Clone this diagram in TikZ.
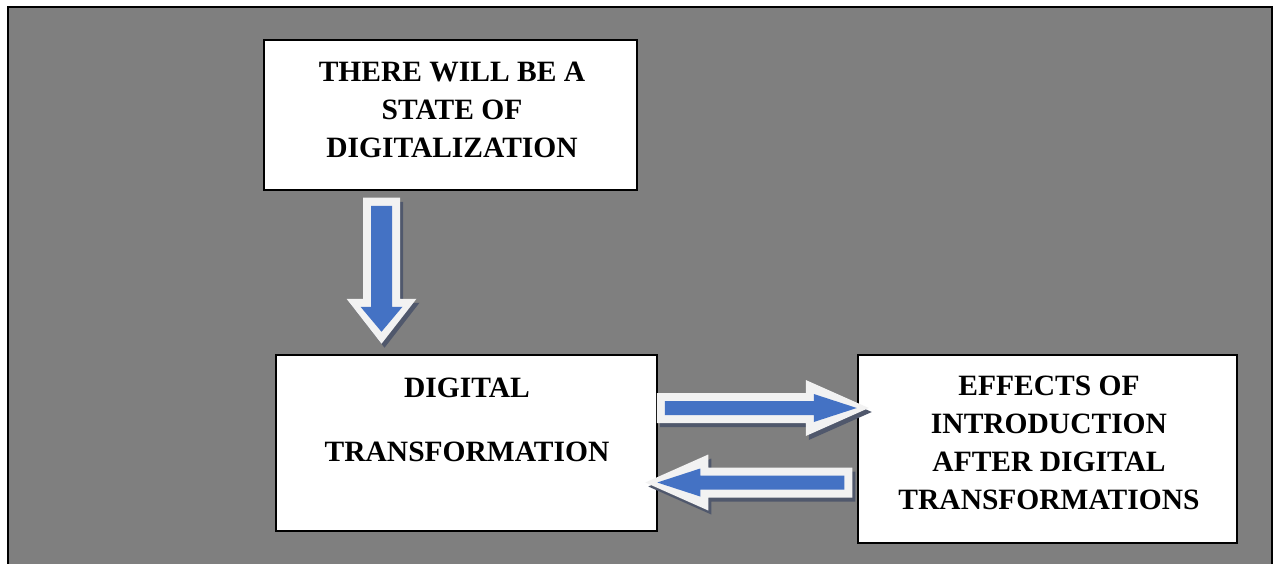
\documentclass[tikz,border=0pt]{standalone}
\usepackage{fontspec}
\setmainfont{Liberation Serif}
\usetikzlibrary{calc}

\definecolor{sheetgray}{RGB}{127,127,127}
\definecolor{arrowblue}{RGB}{68,114,196}
\definecolor{arrowrim}{RGB}{242,242,242}
\definecolor{arrowshade}{RGB}{80,88,108}

\tikzset{
  box/.style={draw,line width=1.5pt,fill=white,inner sep=0pt},
  caption/.style={anchor=north,inner sep=0pt,align=center,
    font=\bfseries\fontsize{29.5}{38}\selectfont},
}

% block arrow along the local x axis:
% #1 tail, #2 angle, #3 length, #4 head length, #5 shaft half width, #6 head half width
\newcommand\blockarrow[6]{%
  \fill[arrowshade,shift={(#1)},shift={(3,4)},rotate=#2]
    (0,-#5) -- (#3-#4,-#5) -- (#3-#4,-#6) -- (#3,0) -- (#3-#4,#6) -- (#3-#4,#5) -- (0,#5) -- cycle;
  \fill[arrowrim,shift={(#1)},rotate=#2]
    (0,-#5) -- (#3-#4,-#5) -- (#3-#4,-#6) -- (#3,0) -- (#3-#4,#6) -- (#3-#4,#5) -- (0,#5) -- cycle;
  \fill[arrowblue,shift={(#1)},rotate=#2]
    (8,-#5+8) -- (#3-#4+8,-#5+8) -- (#3-#4+8,-#6+14) -- (#3-12,0)
    -- (#3-#4+8,#6-14) -- (#3-#4+8,#5-8) -- (8,#5-8) -- cycle;
}

\begin{document}
\begin{tikzpicture}[x=1pt,y=-1pt]
\useasboundingbox (0,0) rectangle (1276,564);
\fill[white] (0,0) rectangle (1276,564);

% grey sheet
\fill[sheetgray] (8,7) rectangle (1272,564);
\draw[line width=2.5pt] (8,564) -- (8,7) -- (1272,7) -- (1272,564);

% boxes
\node[box,minimum width=373,minimum height=150] (state) at (450.5,115) {};
\node[box,minimum width=381,minimum height=176] (transf) at (466.5,443) {};
\node[box,minimum width=379,minimum height=188] (effects) at (1047.5,449) {};

\node[caption] (statetext) at (452,62) {THERE WILL BE A\\STATE OF\\DIGITALIZATION};
\node[caption] (transftext) at (467,378) {DIGITAL\\[26pt]TRANSFORMATION};
\node[caption] (effectstext) at (1049,376) {EFFECTS OF\\INTRODUCTION\\AFTER DIGITAL\\TRANSFORMATIONS};

% arrows
\coordinate (downtail) at ($(state.south)+(-69,7)$);
\coordinate (righttail) at ($(transf.east)+(-1,-35)$);
\coordinate (lefttail) at ($(effects.west)+(-5,33.5)$);

\blockarrow{downtail}{-90}{146}{45}{18.5}{35}
\blockarrow{righttail}{0}{212}{63}{15}{28}
\blockarrow{lefttail}{180}{207}{63}{15}{28}
\end{tikzpicture}
\end{document}
